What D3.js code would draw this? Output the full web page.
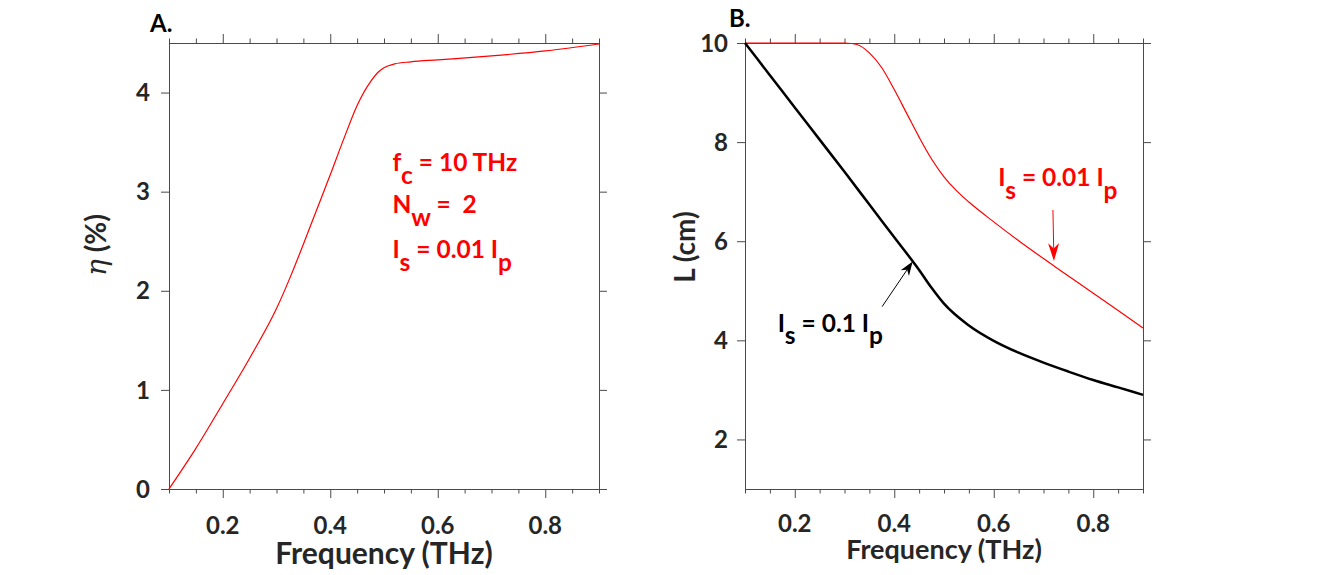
<!DOCTYPE html>
<html><head><meta charset="utf-8">
<script src="https://cdn.jsdelivr.net/npm/d3@7"></script>
<style>
body{margin:0;background:#fff}
text{font-family:Lato,"Noto Sans",sans-serif;font-weight:700;white-space:pre}
</style>
</head><body>
<script>
// ---------- data ----------
const freqA = [0.10,0.15,0.20,0.25,0.30,0.325,0.35,0.375,0.40,0.425,0.45,0.475,0.49,0.50,0.52,0.55,0.60,0.70,0.80,0.90];
const etaA  = [0.00,0.41,0.86,1.32,1.82,2.13,2.47,2.82,3.17,3.53,3.87,4.11,4.21,4.25,4.29,4.31,4.33,4.37,4.42,4.49];

const freqB = [0.10,0.15,0.20,0.25,0.30,0.35,0.40,0.45,0.475,0.50,0.55,0.60,0.65,0.70,0.75,0.80,0.85,0.90];
const lenBlack = [10.00,9.35,8.70,8.05,7.40,6.74,6.08,5.42,5.06,4.74,4.30,3.99,3.75,3.55,3.37,3.20,3.05,2.90];
const freqBRed = [0.10,0.20,0.30,0.325,0.35,0.375,0.40,0.425,0.45,0.475,0.50,0.525,0.55,0.60,0.65,0.70,0.75,0.80,0.85,0.90];
const lenRed   = [10.00,10.00,10.00,9.97,9.80,9.50,9.06,8.58,8.10,7.66,7.30,7.02,6.79,6.39,6.01,5.65,5.30,4.95,4.60,4.25];

const xMajor = [0.2,0.4,0.6,0.8];
const xMinor = [0.1,0.15,0.25,0.3,0.35,0.45,0.5,0.55,0.65,0.7,0.75,0.85,0.9];
const yTicksA = [0,1,2,3,4];
const yTicksB = [2,4,6,8,10];

// annotation anchors (data coordinates)
const annoAx = 0.516, annoAy = [3.21, 2.78, 2.33];
const annoALines = [["f","c"," = 10 THz",""],["N","w"," =  2",""],["I","s"," = 0.01 I","p"]];
const redLabelB = [0.609, 7.11], blackLabelB = [0.166, 4.175];
const redArrowB = [[0.719,6.63],[0.721,5.60]];
const blackArrowB = [[0.3756,4.68],[0.437,5.59]];

// ---------- setup ----------
const W=1325,H=575;
const axisColor="#4a4a4a", labelColor="#262626";
const svg=d3.select("body").append("svg").attr("width",W).attr("height",H);

const xA=d3.scaleLinear().domain([0.1,0.9]).range([169,599]);
const yA=d3.scaleLinear().domain([0,4.5]).range([489,43]);
const xB=d3.scaleLinear().domain([0.1,0.9]).range([745,1143]);
const yB=d3.scaleLinear().domain([1,10]).range([489,43]);

function frame(x,y,yTicks){
  const [x0,x1]=x.range(), [yb,yt]=y.range();
  const g=svg.append("g");
  const mk=(axis,tr)=>{const a=g.append("g").attr("transform",tr).call(axis);
    a.select(".domain").remove(); a.selectAll("text").remove();
    a.selectAll("line").attr("stroke",axisColor).attr("stroke-width",1);};
  mk(d3.axisBottom(x).tickValues(xMinor).tickSize(4.5),`translate(0,${yb})`);
  mk(d3.axisBottom(x).tickValues(xMajor).tickSize(9),`translate(0,${yb})`);
  mk(d3.axisTop(x).tickValues(xMinor).tickSize(4.5),`translate(0,${yt})`);
  mk(d3.axisTop(x).tickValues(xMajor).tickSize(9),`translate(0,${yt})`);
  mk(d3.axisLeft(y).tickValues(yTicks).tickSize(8),`translate(${x0},0)`);
  mk(d3.axisRight(y).tickValues(yTicks).tickSize(8),`translate(${x1},0)`);
  g.append("rect").attr("x",x0+0.5).attr("y",yt+0.5).attr("width",x1-x0).attr("height",yb-yt)
    .attr("fill","none").attr("stroke",axisColor).attr("stroke-width",1);
  return g;
}

function tickLabels(x,y,yTicks,xBase,yRight){
  svg.append("g").selectAll("text").data(xMajor).join("text")
    .attr("x",d=>x(d)).attr("y",xBase).attr("text-anchor","middle")
    .attr("font-size",24).attr("fill",labelColor).text(d=>d3.format(".1f")(d));
  svg.append("g").selectAll("text").data(yTicks).join("text")
    .attr("x",yRight).attr("y",d=>y(d)).attr("dy","0.36em").attr("text-anchor","end")
    .attr("font-size",24).attr("fill",labelColor).text(d=>d);
}

function subText(xp,yp,parts,color,size){
  const t=svg.append("text").attr("x",xp).attr("y",yp).attr("font-size",size).attr("fill",color);
  t.append("tspan").text(parts[0]);
  t.append("tspan").attr("dy","0.52em").text(parts[1]);
  t.append("tspan").attr("dy","-0.52em").text(parts[2]);
  if(parts[3]) t.append("tspan").attr("dy","0.52em").text(parts[3]);
  return t;
}

function arrow(p0,p1,color,width,hl,hw){
  const dx=p1[0]-p0[0], dy=p1[1]-p0[1], L=Math.hypot(dx,dy), ux=dx/L, uy=dy/L, nx=-uy, ny=ux;
  const bx=p1[0]-ux*hl, by=p1[1]-uy*hl;
  const nxp=p1[0]-ux*hl*0.7, nyp=p1[1]-uy*hl*0.7;
  svg.append("line").attr("x1",p0[0]).attr("y1",p0[1]).attr("x2",nxp).attr("y2",nyp)
    .attr("stroke",color).attr("stroke-width",width);
  svg.append("path").attr("d",`M${p1[0]},${p1[1]}L${bx+nx*hw/2},${by+ny*hw/2}L${nxp},${nyp}L${bx-nx*hw/2},${by-ny*hw/2}Z`)
    .attr("fill",color);
}

// ---------- panel A ----------
frame(xA,yA,yTicksA);
tickLabels(xA,yA,yTicksA,534,150);
svg.append("path").datum(freqA.map((f,i)=>[f,etaA[i]]))
  .attr("d",d3.line().x(d=>xA(d[0])).y(d=>yA(d[1])).curve(d3.curveMonotoneX))
  .attr("fill","none").attr("stroke","#ff0000").attr("stroke-width",1.2);
svg.append("text").attr("x",150).attr("y",31.5).attr("font-size",24).attr("fill","#000").text("A.");
svg.append("text").attr("x",384).attr("y",564).attr("text-anchor","middle").attr("font-size",30)
  .attr("fill",labelColor).text("Frequency (THz)");
{
  const t=svg.append("text").attr("transform","translate(106,245) rotate(-90)").attr("text-anchor","middle")
    .attr("font-size",28).attr("fill",labelColor);
  t.append("tspan").attr("font-style","italic").attr("font-family","'DejaVu Serif',serif").attr("font-weight",400).text("η");
  t.append("tspan").text(" (%)");
}
annoALines.forEach((p,i)=>subText(xA(annoAx),yA(annoAy[i]),p,"#ff0000",24.5));

// ---------- panel B ----------
frame(xB,yB,yTicksB);
tickLabels(xB,yB,yTicksB,532,728);
svg.append("path").datum(freqBRed.map((f,i)=>[f,lenRed[i]]))
  .attr("d",d3.line().x(d=>xB(d[0])).y(d=>yB(d[1])).curve(d3.curveMonotoneX))
  .attr("fill","none").attr("stroke","#ff0000").attr("stroke-width",1.2);
svg.append("path").datum(freqB.map((f,i)=>[f,lenBlack[i]]))
  .attr("d",d3.line().x(d=>xB(d[0])).y(d=>yB(d[1])).curve(d3.curveMonotoneX))
  .attr("fill","none").attr("stroke","#000").attr("stroke-width",2.5);
svg.append("text").attr("x",729).attr("y",27).attr("font-size",24).attr("fill","#000").text("B.");
svg.append("text").attr("x",944).attr("y",559).attr("text-anchor","middle").attr("font-size",27)
  .attr("fill",labelColor).text("Frequency (THz)");
svg.append("text").attr("transform","translate(695,247) rotate(-90)").attr("text-anchor","middle")
  .attr("font-size",28).attr("fill",labelColor).text("L (cm)");
subText(xB(redLabelB[0]),yB(redLabelB[1]),["I","s"," = 0.01 I","p"],"#ff0000",24.5);
subText(xB(blackLabelB[0]),yB(blackLabelB[1]),["I","s"," = 0.1 I","p"],"#000",24.5);
const rA=redArrowB.map(d=>[xB(d[0]),yB(d[1])]), bA=blackArrowB.map(d=>[xB(d[0]),yB(d[1])]);
arrow(rA[0],rA[1],"#ff0000",1,18,11);
arrow(bA[0],bA[1],"#000",1,14,10);
</script>
</body></html>
